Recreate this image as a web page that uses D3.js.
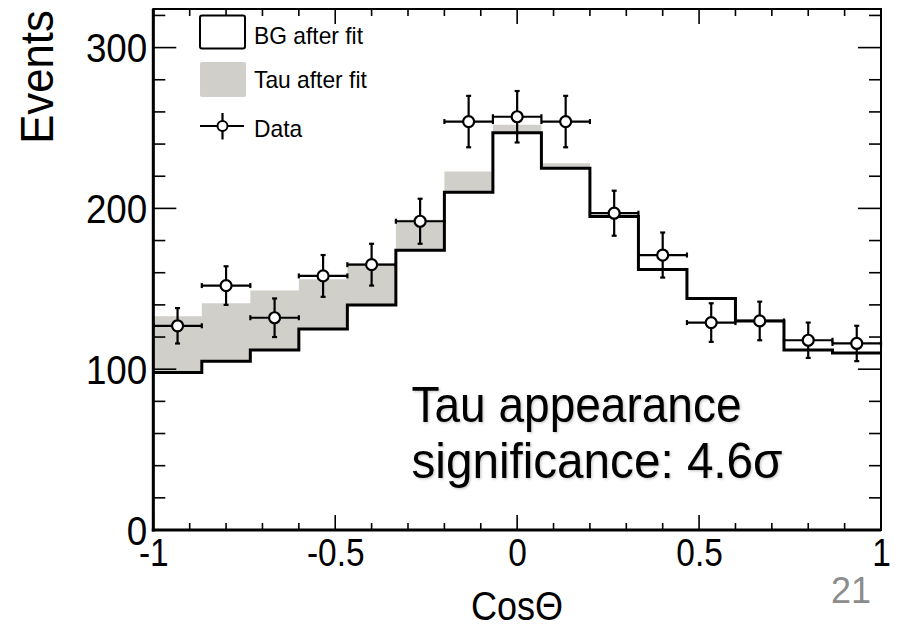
<!DOCTYPE html>
<html>
<head>
<meta charset="utf-8">
<script src="https://cdn.jsdelivr.net/npm/d3@7"></script>
<style>
  html, body { margin: 0; padding: 0; background: #fff; }
  svg { display: block; }
  text { font-family: "Liberation Sans", Arial, Helvetica, sans-serif; }
</style>
</head>
<body>
<svg id="chart" width="898" height="631"></svg>
<script>
// Histogram of cos(theta): 15 equal-width bins over [-1, 1]
const binLow = -1, binHigh = 1, nBins = 15;
const bgAfterFit  = [98, 105, 112, 125, 140, 174, 210, 247, 225, 195, 162, 144, 130, 112, 110];
const tauAfterFit = [35, 36, 37, 31, 26, 19, 13, 5, 3, 1, 0, 0, 0, 0, 0];
const dataCounts  = [127, 152, 132, 158, 165, 192, 254, 257, 254, 197, 171, 129, 130, 118, 116];
const dataErrors  = [11, 12, 12, 13, 13, 14, 16, 16, 16, 14, 14, 12, 12, 11, 11];
const xMajorTicks = [-1, -0.5, 0, 0.5, 1];
const xTickLabels = ["-1", "-0.5", "0", "0.5", "1"];
const yMajorTicks = [0, 100, 200, 300];
const yTickLabels = ["0", "100", "200", "300"];
const legendLabels = ["BG after fit", "Tau after fit", "Data"];
const noteLines = ["Tau appearance", "significance: 4.6\u03c3"];

const svg = d3.select("#chart");
const L = 153.3, R = 881, T = 9, B = 530;
const x = d3.scaleLinear().domain([binLow, binHigh]).range([L, R]);
const y = d3.scaleLinear().domain([0, 324]).range([B, T]);
const grey = "#d1cfca";

const binW = (binHigh - binLow) / nBins;
const edges = d3.range(nBins + 1).map(i => binLow + i * binW);
const centers = d3.range(nBins).map(i => binLow + (i + 0.5) * binW);
// repeat the last bin value so the step curve closes at the upper edge
const stepPts = edges.map((e, i) => ({ e, i: Math.min(i, nBins - 1) }));

// shaded tau component stacked on the background
const area = d3.area()
  .curve(d3.curveStepAfter)
  .x(d => x(d.e))
  .y0(d => y(bgAfterFit[d.i]))
  .y1(d => y(bgAfterFit[d.i] + tauAfterFit[d.i]));
svg.append("path").attr("d", area(stepPts)).attr("fill", grey);

// background outline
const bgLine = d3.line().curve(d3.curveStepAfter)
  .x(d => x(d.e)).y(d => y(bgAfterFit[d.i]));
svg.append("path").attr("d", bgLine(stepPts))
  .attr("fill", "none").attr("stroke", "#000").attr("stroke-width", 3);

// data points with error bars
const pts = svg.append("g").attr("stroke", "#000").attr("stroke-width", 2.2);
const cap = 2.5;
centers.forEach((c, i) => {
  const cx = x(c), cy = y(dataCounts[i]);
  const x0 = x(edges[i]), x1 = x(edges[i + 1]);
  const yt = y(dataCounts[i] + dataErrors[i]), yb = y(dataCounts[i] - dataErrors[i]);
  pts.append("line").attr("x1", x0).attr("x2", x1).attr("y1", cy).attr("y2", cy);
  pts.append("line").attr("x1", cx).attr("x2", cx).attr("y1", yt).attr("y2", yb);
  pts.append("line").attr("x1", x0).attr("x2", x0).attr("y1", cy - cap).attr("y2", cy + cap);
  pts.append("line").attr("x1", x1).attr("x2", x1).attr("y1", cy - cap).attr("y2", cy + cap);
  pts.append("line").attr("x1", cx - cap).attr("x2", cx + cap).attr("y1", yt).attr("y2", yt);
  pts.append("line").attr("x1", cx - cap).attr("x2", cx + cap).attr("y1", yb).attr("y2", yb);
  pts.append("circle").attr("cx", cx).attr("cy", cy).attr("r", 5.5).attr("fill", "#fff");
});

// ticks on all four sides
const xMinor = d3.range(-10, 11).map(v => v / 10).filter(v => !xMajorTicks.some(m => Math.abs(m - v) < 1e-9));
const yMinor = d3.range(0, 17).map(v => v * 20).filter(v => !yMajorTicks.includes(v));
const tickG = svg.append("g").attr("stroke", "#000").attr("stroke-width", 1.6);
function xTicks(vals, len) {
  vals.forEach(v => {
    tickG.append("line").attr("x1", x(v)).attr("x2", x(v)).attr("y1", B).attr("y2", B - len);
    tickG.append("line").attr("x1", x(v)).attr("x2", x(v)).attr("y1", T).attr("y2", T + len);
  });
}
function yTicks(vals, len) {
  vals.forEach(v => {
    tickG.append("line").attr("x1", L).attr("x2", L + len).attr("y1", y(v)).attr("y2", y(v));
    tickG.append("line").attr("x1", R).attr("x2", R - len).attr("y1", y(v)).attr("y2", y(v));
  });
}
xTicks(xMajorTicks, 15); xTicks(xMinor, 7);
yTicks(yMajorTicks, 23); yTicks(yMinor, 12);

// frame
svg.append("rect").attr("x", L).attr("y", T).attr("width", R - L).attr("height", B - T)
  .attr("fill", "none").attr("stroke", "#000").attr("stroke-width", 2);
svg.append("line").attr("x1", L).attr("x2", L).attr("y1", T).attr("y2", B + 1.5)
  .attr("stroke", "#000").attr("stroke-width", 3);
svg.append("line").attr("x1", L - 1.5).attr("x2", R).attr("y1", B).attr("y2", B)
  .attr("stroke", "#000").attr("stroke-width", 3);

// tick labels drawn with d3 axes (lines hidden, frame drawn above)
function squeeze(sel, f) {
  sel.each(function () {
    const w = this.getComputedTextLength();
    d3.select(this).attr("textLength", w * f).attr("lengthAdjust", "spacingAndGlyphs");
  });
}
const yAxis = svg.append("g").attr("transform", `translate(${L},0)`)
  .call(d3.axisLeft(y).tickValues(yMajorTicks).tickSize(0).tickPadding(6)
    .tickFormat((d, i) => yTickLabels[i]));
yAxis.select(".domain").remove();
yAxis.selectAll("text").attr("font-size", 40).attr("fill", "#000")
  .attr("font-family", "Liberation Sans, Arial, sans-serif").attr("dy", "0.36em").call(squeeze, 0.92);

const xAxis = svg.append("g").attr("transform", `translate(0,${B})`)
  .call(d3.axisBottom(x).tickValues(xMajorTicks).tickSize(0).tickPadding(9)
    .tickFormat((d, i) => xTickLabels[i]));
xAxis.select(".domain").remove();
xAxis.selectAll("text").attr("font-size", 38).attr("fill", "#000")
  .attr("font-family", "Liberation Sans, Arial, sans-serif").call(squeeze, 0.88);

// axis titles
svg.append("text").attr("transform", "translate(53,77) rotate(-90)")
  .attr("text-anchor", "middle").attr("font-size", 46).text("Events").call(squeeze, 0.95);
svg.append("text").attr("x", 517).attr("y", 620).attr("text-anchor", "middle")
  .attr("font-size", 40).text("Cos\u0398").call(squeeze, 0.9);

// legend
const lg = svg.append("g");
lg.append("rect").attr("x", 200).attr("y", 15.5).attr("width", 45).attr("height", 33)
  .attr("rx", 2).attr("fill", "#fff").attr("stroke", "#000").attr("stroke-width", 2);
lg.append("rect").attr("x", 200).attr("y", 62).attr("width", 46).attr("height", 35)
  .attr("rx", 2).attr("fill", grey);
lg.append("line").attr("x1", 200).attr("x2", 244).attr("y1", 126).attr("y2", 126)
  .attr("stroke", "#000").attr("stroke-width", 2.2);
lg.append("line").attr("x1", 222.5).attr("x2", 222.5).attr("y1", 113).attr("y2", 139.5)
  .attr("stroke", "#000").attr("stroke-width", 2.2);
lg.append("circle").attr("cx", 222.5).attr("cy", 126).attr("r", 5)
  .attr("fill", "#fff").attr("stroke", "#000").attr("stroke-width", 2);
[43.5, 87.5, 136.5].forEach((by, i) => {
  lg.append("text").attr("x", 254).attr("y", by).attr("font-size", 24)
    .text(legendLabels[i]).call(squeeze, 0.95);
});

// annotation
const defs = svg.append("defs");
const sh = defs.append("filter").attr("id", "soft").attr("x", "-5%").attr("y", "-20%")
  .attr("width", "115%").attr("height", "150%");
sh.append("feDropShadow").attr("dx", 1.2).attr("dy", 1.2).attr("stdDeviation", 0.8)
  .attr("flood-color", "#000").attr("flood-opacity", 0.22);
const note = svg.append("g").attr("filter", "url(#soft)");
const noteW = [330, 371];
[421.5, 477.5].forEach((by, i) => {
  note.append("text").attr("x", 411.5).attr("y", by)
    .attr("font-family", "Carlito, Lato, 'Open Sans', sans-serif").attr("font-size", 50)
    .attr("fill", "#000").attr("textLength", noteW[i]).attr("lengthAdjust", "spacingAndGlyphs")
    .text(noteLines[i]);
});

// slide number
svg.append("text").attr("x", 851).attr("y", 603).attr("text-anchor", "middle")
  .attr("font-family", "Carlito, Lato, 'Open Sans', sans-serif").attr("font-size", 36)
  .attr("fill", "#8c8c8c").text("21");
</script>
</body>
</html>
